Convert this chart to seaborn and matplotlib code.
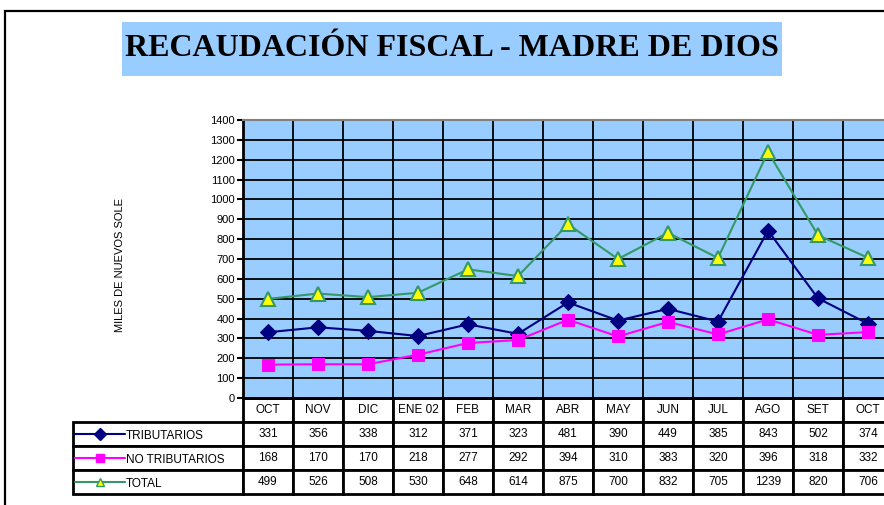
import matplotlib
matplotlib.use("Agg")
import matplotlib.pyplot as plt
from matplotlib.patches import Rectangle
from matplotlib.lines import Line2D
import seaborn as sns
import pandas as pd

sns.set_style("white")
plt.rcParams["font.family"] = ["Liberation Sans", "DejaVu Sans"]
plt.rcParams["text.color"] = "black"
plt.rcParams["ytick.color"] = "black"

# data
meses = ["OCT", "NOV", "DIC", "ENE 02", "FEB", "MAR", "ABR", "MAY", "JUN", "JUL", "AGO", "SET", "OCT"]
tributarios = [331, 356, 338, 312, 371, 323, 481, 390, 449, 385, 843, 502, 374]
no_tributarios = [168, 170, 170, 218, 277, 292, 394, 310, 383, 320, 396, 318, 332]
total = [499, 526, 508, 530, 648, 614, 875, 700, 832, 705, 1239, 820, 706]

W, H = 884, 505
BG = "#99CCFF"

fig = plt.figure(figsize=(W / 100, H / 100), dpi=100)


def fx(px):
    return px / W


def fy(py):
    return 1 - py / H


# outer frame (clipped on right/bottom like the original)
fig.patches.append(Rectangle((fx(5), fy(600)), fx(1000), fy(11) - fy(600),
                             transform=fig.transFigure, fill=False,
                             edgecolor="black", linewidth=1.6))

# title box
fig.patches.append(Rectangle((fx(122), fy(76)), fx(782) - fx(122), fy(22) - fy(76),
                             transform=fig.transFigure, facecolor=BG, edgecolor="none"))
fig.text(fx(452), fy(49), "RECAUDACIÓN FISCAL - MADRE DE DIOS",
         family=["Liberation Serif", "DejaVu Serif"], weight="bold",
         fontsize=23, ha="center", va="center", color="black")

# plot area: columns are 50 px wide, last one runs past the edge
ax = fig.add_axes([fx(243), fy(398), fx(893) - fx(243), fy(120) - fy(398)])
ax.set_facecolor(BG)

x = list(range(len(meses)))
df = pd.DataFrame({"x": x, "trib": tributarios, "notrib": no_tributarios, "total": total})

sns.lineplot(data=df, x="x", y="total", ax=ax, color="#339966", linewidth=1.5,
             marker="^", markersize=10, markerfacecolor="#FFFF00",
             markeredgecolor="#339966", markeredgewidth=1.5, zorder=5)
sns.lineplot(data=df, x="x", y="trib", ax=ax, color="#000080", linewidth=1.5,
             marker="D", markersize=8, markerfacecolor="#000080",
             markeredgecolor="#000080", zorder=5)
sns.lineplot(data=df, x="x", y="notrib", ax=ax, color="#FF00FF", linewidth=1.5,
             marker="s", markersize=9, markerfacecolor="#FF00FF",
             markeredgecolor="#FF00FF", zorder=5)

ax.set_xlim(-0.5, len(meses) - 0.5)
ax.set_ylim(0, 1400)
ax.set_yticks(range(0, 1401, 100))
ax.set_xticks([i - 0.5 for i in range(len(meses) + 1)])
ax.set_xticklabels([])
ax.tick_params(axis="x", length=0)
ax.tick_params(axis="y", direction="out", length=4, width=1.5, labelsize=8, pad=2, left=True)
ax.grid(True, color="black", linewidth=1.3)
ax.set_axisbelow(True)
ax.set_xlabel("")
ax.set_ylabel("")
for side in ["left", "bottom"]:
    ax.spines[side].set_color("black")
    ax.spines[side].set_linewidth(2)
ax.spines["top"].set_color("#808080")
ax.spines["top"].set_linewidth(1.5)
ax.spines["right"].set_visible(False)

fig.text(fx(120), fy(265), "MILES DE NUEVOS SOLE", rotation=90,
         fontsize=8, ha="center", va="center")

# data table under the plot
axh = 398 - 120
tx0 = (73 - 243) / 650
tw = (893 - 73) / 650
ty0 = -(494 - 398) / axh
th = (494 - 398) / axh
cell_text = [[""] + [str(v) for v in tributarios],
             [""] + [str(v) for v in no_tributarios],
             [""] + [str(v) for v in total]]
col_w = [170 / 820] + [50 / 820] * len(meses)
tab = ax.table(cellText=cell_text, colLabels=[""] + meses, colWidths=col_w,
               cellLoc="center", bbox=[tx0, ty0, tw, th])
tab.auto_set_font_size(False)
tab.set_fontsize(8.5)
for (r, c), cell in tab.get_celld().items():
    cell.set_linewidth(2)
    cell.set_facecolor("white")
    if r == 0 and c == 0:
        cell.visible_edges = ""

# legend keys inside the first table column
labels = ["TRIBUTARIOS", "NO TRIBUTARIOS", "TOTAL"]
styles = [dict(color="#000080", marker="D", markersize=6, markerfacecolor="#000080"),
          dict(color="#FF00FF", marker="s", markersize=6, markerfacecolor="#FF00FF"),
          dict(color="#339966", marker="^", markersize=6, markerfacecolor="#FFFF00",
               markeredgecolor="#339966")]
for i, (lab, st) in enumerate(zip(labels, styles)):
    yc = (398 - (434 + 24 * i)) / axh
    ax.add_line(Line2D([(75 - 243) / 650, (125 - 243) / 650], [yc, yc],
                       transform=ax.transAxes, clip_on=False, linewidth=1.5, color=st["color"]))
    ax.add_line(Line2D([(100 - 243) / 650], [yc], transform=ax.transAxes, clip_on=False,
                       linestyle="none", **st))
    ax.text((126 - 243) / 650, yc - 2 / axh, lab, transform=ax.transAxes,
            fontsize=8.5, ha="left", va="center")

fig.savefig("out.png", dpi=100)
